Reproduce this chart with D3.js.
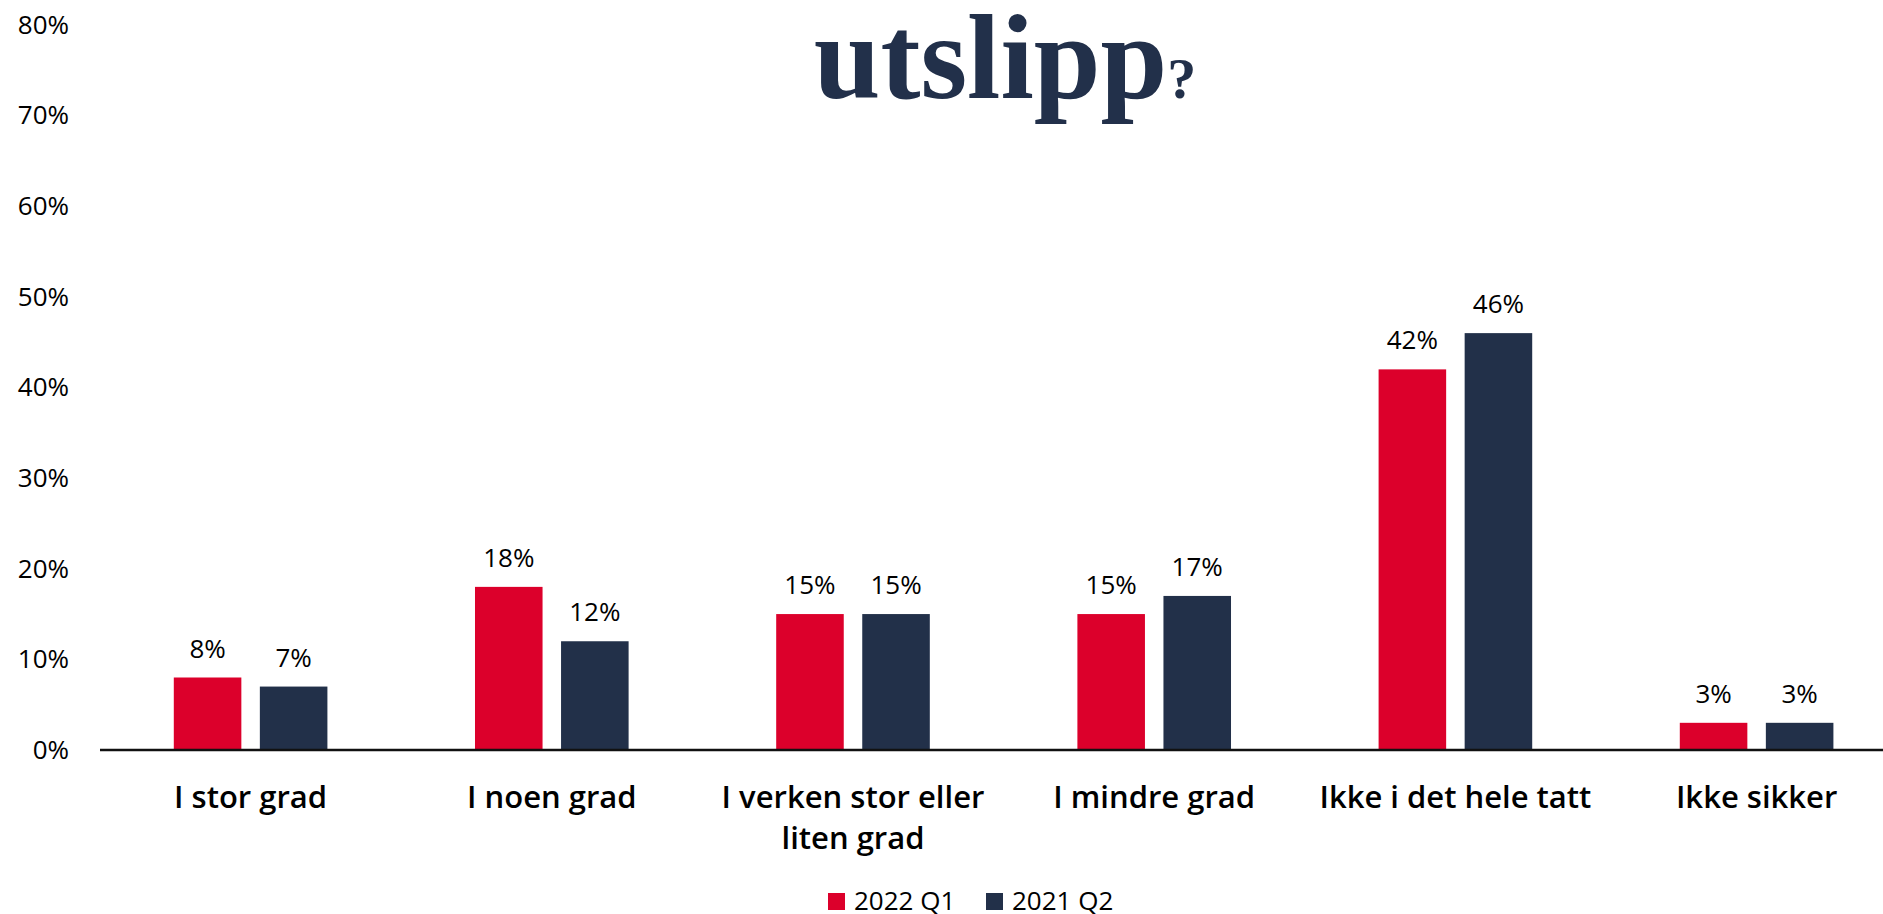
<!DOCTYPE html>
<html>
<head>
<meta charset="utf-8">
<script src="https://cdn.jsdelivr.net/npm/d3@7"></script>
<style>
  html, body { margin: 0; padding: 0; background: #ffffff; overflow: hidden; }
  svg { display: block; }
</style>
</head>
<body>
<svg id="chart" width="1883" height="914"></svg>
<script>
// ---- data ----
const categories = ["I stor grad", "I noen grad", "I verken stor eller liten grad", "I mindre grad", "Ikke i det hele tatt", "Ikke sikker"];
const seriesNames = ["2022 Q1", "2021 Q2"];
const values2022Q1 = [8, 18, 15, 15, 42, 3];
const values2021Q2 = [7, 12, 15, 17, 46, 3];
const yTicks = [0, 10, 20, 30, 40, 50, 60, 70, 80];
const titleText = "utslipp";
const titleMark = "?";

const colors = { "2022 Q1": "#dc002b", "2021 Q2": "#223049" };
const seriesValues = { "2022 Q1": values2022Q1, "2021 Q2": values2021Q2 };

const svg = d3.select("#chart");
const W = 1883, H = 914;
svg.append("rect").attr("width", W).attr("height", H).attr("fill", "#fff");

const plotLeft = 100, step = 301.2, plotRight = plotLeft + step * categories.length;
const y = d3.scaleLinear().domain([0, 80]).range([750, 25]);
const x0 = d3.scaleBand().domain(categories).range([plotLeft, plotRight]).paddingInner(0.49).paddingOuter(0.245);
const x1 = d3.scaleBand().domain(seriesNames).range([0, x0.bandwidth()]).paddingInner(0.215);

// title
const title = svg.append("text")
  .attr("x", 1005).attr("y", 98)
  .attr("text-anchor", "middle")
  .attr("font-family", "'Liberation Serif', 'DejaVu Serif', serif")
  .attr("font-weight", "bold")
  .attr("fill", "#22304a");
title.append("tspan").attr("font-size", 120).text(titleText);
title.append("tspan").attr("font-size", 58).text(titleMark);

// y axis labels
const yAxis = d3.axisLeft(y).tickValues(yTicks).tickSize(0).tickPadding(0).tickFormat(d => d + "%");
const gy = svg.append("g").attr("transform", "translate(69,0)").call(yAxis);
gy.select(".domain").remove();
gy.selectAll("text")
  .attr("font-family", "'Open Sans', 'DejaVu Sans', sans-serif")
  .attr("font-size", 26)
  .attr("fill", "#000");

// bars
const groups = svg.append("g").selectAll("g")
  .data(categories)
  .join("g")
  .attr("transform", d => `translate(${x0(d)},0)`);

groups.selectAll("rect")
  .data((d, i) => seriesNames.map(s => ({ s, v: seriesValues[s][i] })))
  .join("rect")
  .attr("x", d => x1(d.s))
  .attr("y", d => y(d.v))
  .attr("width", x1.bandwidth())
  .attr("height", d => y(0) - y(d.v))
  .attr("fill", d => colors[d.s]);

groups.selectAll("text.val")
  .data((d, i) => seriesNames.map(s => ({ s, v: seriesValues[s][i] })))
  .join("text")
  .attr("class", "val")
  .attr("x", d => x1(d.s) + x1.bandwidth() / 2)
  .attr("y", d => y(d.v) - 20)
  .attr("text-anchor", "middle")
  .attr("font-family", "'Open Sans', 'DejaVu Sans', sans-serif")
  .attr("font-size", 26)
  .attr("fill", "#000")
  .text(d => d.v + "%");

// baseline
svg.append("line")
  .attr("x1", plotLeft).attr("x2", W)
  .attr("y1", y(0)).attr("y2", y(0))
  .attr("stroke", "#111").attr("stroke-width", 2.5);

// x axis category labels (wrapped)
const labelFont = "'Open Sans', 'Liberation Sans', sans-serif";
const xAxis = d3.axisBottom(x0).tickSize(0).tickPadding(0);
const gx = svg.append("g").attr("transform", "translate(0,750)").call(xAxis);
gx.select(".domain").remove();
gx.selectAll(".tick text")
  .attr("font-family", labelFont)
  .attr("font-size", 31)
  .attr("font-weight", 600)
  .attr("fill", "#000")
  .attr("dy", null)
  .attr("y", 0)
  .each(function (d) {
    const t = d3.select(this);
    const words = d.split(" ");
    const lines = [];
    let cur = [];
    words.forEach(w => {
      const test = cur.concat([w]).join(" ");
      t.text(test);
      if (this.getComputedTextLength() > 300 && cur.length) {
        lines.push(cur.join(" "));
        cur = [w];
      } else cur.push(w);
    });
    if (cur.length) lines.push(cur.join(" "));
    t.text(null);
    lines.forEach((l, i) => {
      t.append("tspan").attr("x", 0).attr("y", 58 + i * 40.5).text(l);
    });
  });

// legend
const legend = svg.append("g");
const legendX = [828, 986];
seriesNames.forEach((s, i) => {
  legend.append("rect")
    .attr("x", legendX[i]).attr("y", 893)
    .attr("width", 17).attr("height", 17)
    .attr("fill", colors[s]);
  legend.append("text")
    .attr("x", legendX[i] + 26).attr("y", 910)
    .attr("font-family", "'Open Sans', 'DejaVu Sans', sans-serif")
    .attr("font-size", 26)
    .attr("fill", "#000")
    .text(s);
});
</script>
</body>
</html>
